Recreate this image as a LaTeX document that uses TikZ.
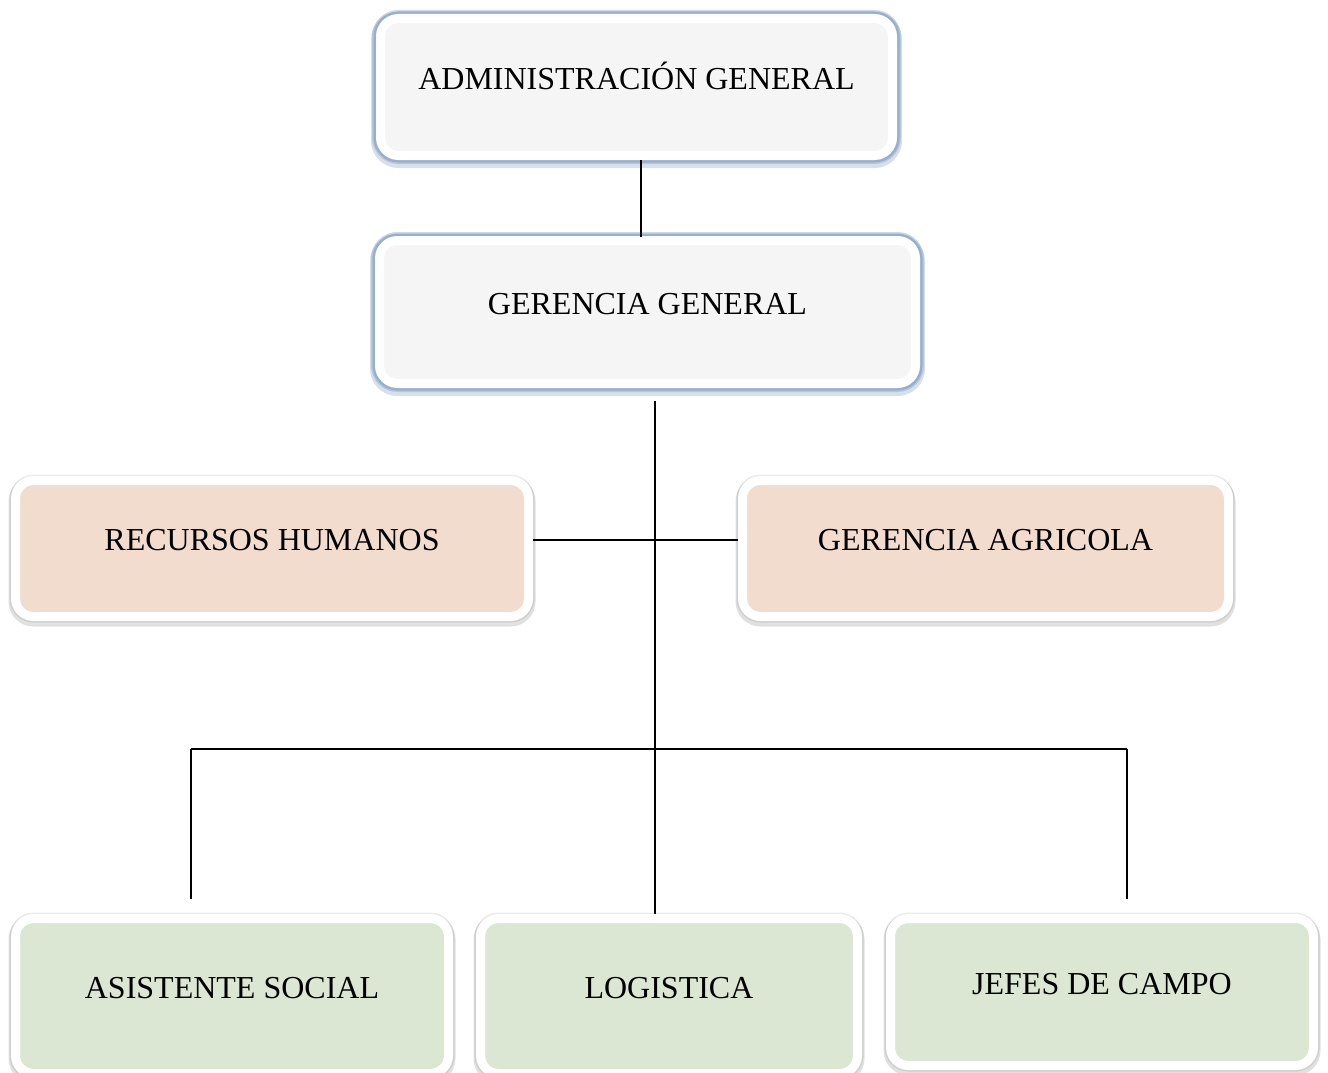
\documentclass[tikz,border=0pt]{standalone}
\usepackage{fontspec}
\setmainfont{Liberation Serif}
\definecolor{greyfill}{HTML}{F5F5F5}
\definecolor{peach}{HTML}{F2DCCE}
\definecolor{sage}{HTML}{DCE7D3}
\definecolor{glow}{HTML}{8FAACB}
\definecolor{glowdark}{HTML}{6683A8}
\tikzset{
  basebox/.style={rectangle, rounded corners=18pt, draw=white, line width=9pt,
    inner sep=0pt, text height=21pt, text depth=17pt,
    font=\fontsize{32}{38}\selectfont, text=black},
  bluebox/.style={basebox, fill=greyfill,
    preaction={draw=glowdark, line width=19pt, opacity=0.25, transform canvas={yshift=-3pt}},
    preaction={draw=glow, line width=17pt, opacity=0.45},
    preaction={draw=glow, line width=14pt, opacity=0.8}},
  pastelbox/.style={basebox, fill=#1,
    preaction={draw=black, line width=14pt, opacity=0.12, transform canvas={yshift=-3pt}},
    preaction={draw=black, line width=12pt, opacity=0.08}},
  link/.style={draw=black, line width=1.8pt},
}
\begin{document}
\begin{tikzpicture}[x=1pt,y=-1pt]
\fill[white] (0,0) rectangle (1328,1073);
\useasboundingbox (0,0) rectangle (1328,1073);

\node[bluebox, minimum width=512pt, minimum height=137pt] (admin) at (636.5,87) {ADMINISTRACIÓN GENERAL};
\node[bluebox, minimum width=536pt, minimum height=143pt] (gg) at (647.5,312) {GERENCIA GENERAL};
\node[pastelbox=peach, minimum width=513pt, minimum height=136pt] (rh) at (272,548.5) {RECURSOS HUMANOS};
\node[pastelbox=peach, minimum width=486pt, minimum height=136pt] (ga) at (985.5,548.5) {GERENCIA AGRICOLA};
\node[pastelbox=sage, minimum width=433pt, minimum height=155pt] (as) at (232,996) {ASISTENTE SOCIAL};
\node[pastelbox=sage, minimum width=377pt, minimum height=155pt] (log) at (669,996) {LOGISTICA};
\node[pastelbox=sage, minimum width=423pt, minimum height=147pt] (jc) at (1102,992) {JEFES DE CAMPO};

\coordinate (hub) at (655,540);
\coordinate (busL) at (191,749);
\coordinate (busM) at (655,749);
\coordinate (busR) at (1127,749);

\draw[link] (admin.south -| 641,0) -- ([yshift=-0.5pt]gg.north -| 641,0);
\draw[link] ([yshift=-13pt]gg.south -| hub) -- (log.north -| hub);
\draw[link] (rh.east |- hub) -- (ga.west |- hub);
\draw[link] (busL) -- (busR);
\draw[link] (busL) -- ([yshift=15.5pt]as.north -| busL);
\draw[link] (busR) -- ([yshift=15.5pt]jc.north -| busR);
\end{tikzpicture}
\end{document}
